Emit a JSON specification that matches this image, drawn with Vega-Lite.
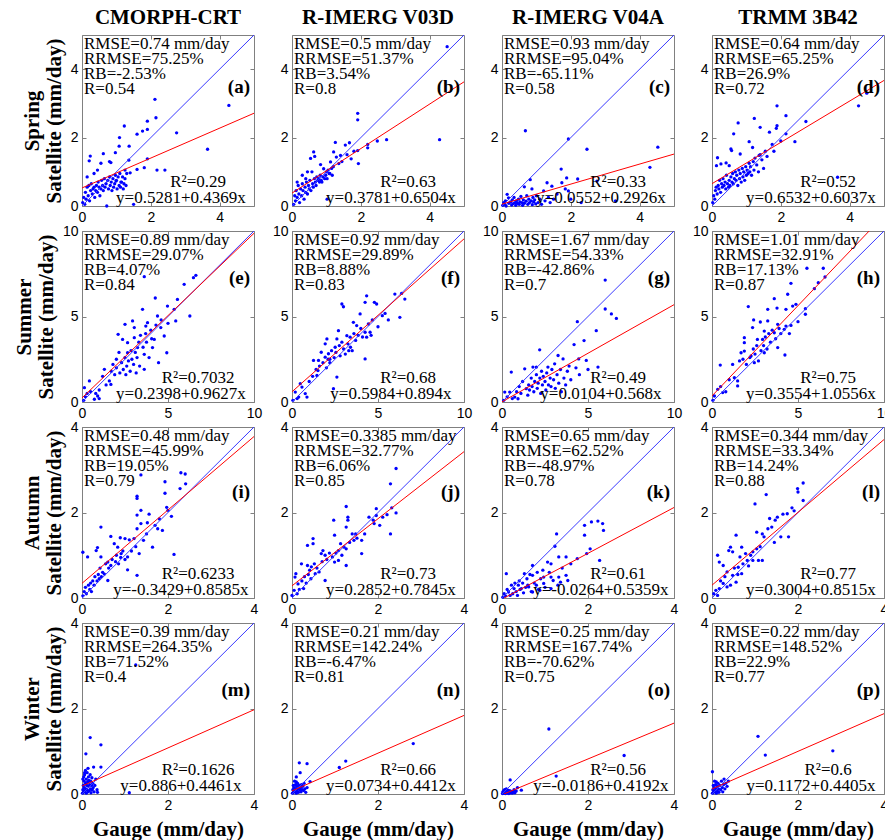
{
"$schema":"https://vega.github.io/schema/vega-lite/v6.json",
"padding":{"left":12,"top":6,"right":0,"bottom":0},
"background":"white",
"datasets":{
"pts":[
{"p":"a","x":0.02,"y":0.1},{"p":"a","x":0.05,"y":0.25},{"p":"a","x":0.08,"y":0.05},{"p":"a","x":0.1,"y":0.4},{"p":"a","x":0.12,"y":0.2},{"p":"a","x":0.15,"y":0.55},{"p":"a","x":0.18,"y":0.3},{"p":"a","x":0.2,"y":0.6},{"p":"a","x":0.22,"y":0.15},{"p":"a","x":0.25,"y":0.45},{"p":"a","x":0.27,"y":0.65},{"p":"a","x":0.3,"y":0.35},{"p":"a","x":0.32,"y":0.5},{"p":"a","x":0.35,"y":0.55},{"p":"a","x":0.37,"y":0.25},{"p":"a","x":0.4,"y":0.45},{"p":"a","x":0.42,"y":0.6},{"p":"a","x":0.45,"y":0.4},{"p":"a","x":0.47,"y":0.7},{"p":"a","x":0.5,"y":0.55},{"p":"a","x":0.52,"y":0.3},{"p":"a","x":0.55,"y":0.5},{"p":"a","x":0.57,"y":0.75},{"p":"a","x":0.6,"y":0.6},{"p":"a","x":0.62,"y":0.45},{"p":"a","x":0.65,"y":0.8},{"p":"a","x":0.67,"y":0.55},{"p":"a","x":0.7,"y":0.65},{"p":"a","x":0.72,"y":0.0},{"p":"a","x":0.75,"y":0.75},{"p":"a","x":0.77,"y":0.5},{"p":"a","x":0.8,"y":0.85},{"p":"a","x":0.82,"y":0.6},{"p":"a","x":0.85,"y":0.7},{"p":"a","x":0.87,"y":0.45},{"p":"a","x":0.9,"y":0.8},{"p":"a","x":0.92,"y":0.55},{"p":"a","x":0.95,"y":0.65},{"p":"a","x":0.97,"y":0.9},{"p":"a","x":1.0,"y":0.75},{"p":"a","x":1.02,"y":0.5},{"p":"a","x":1.05,"y":0.85},{"p":"a","x":1.08,"y":0.6},{"p":"a","x":1.1,"y":0.95},{"p":"a","x":1.12,"y":0.55},{"p":"a","x":1.15,"y":0.7},{"p":"a","x":1.18,"y":0.85},{"p":"a","x":1.2,"y":0.5},{"p":"a","x":1.22,"y":0.65},{"p":"a","x":1.25,"y":0.8},{"p":"a","x":1.28,"y":0.6},{"p":"a","x":1.3,"y":0.95},{"p":"a","x":0.21,"y":1.32},{"p":"a","x":0.24,"y":1.46},{"p":"a","x":0.55,"y":1.25},{"p":"a","x":0.62,"y":1.53},{"p":"a","x":0.8,"y":1.3},{"p":"a","x":0.84,"y":1.27},{"p":"a","x":0.97,"y":1.56},{"p":"a","x":1.08,"y":1.75},{"p":"a","x":1.09,"y":2.0},{"p":"a","x":1.23,"y":2.34},{"p":"a","x":1.37,"y":1.75},{"p":"a","x":1.36,"y":1.34},{"p":"a","x":1.6,"y":2.1},{"p":"a","x":1.76,"y":2.19},{"p":"a","x":1.9,"y":2.24},{"p":"a","x":1.9,"y":2.48},{"p":"a","x":2.15,"y":2.58},{"p":"a","x":2.12,"y":3.12},{"p":"a","x":2.75,"y":2.14},{"p":"a","x":3.65,"y":1.66},{"p":"a","x":4.27,"y":2.94},{"p":"a","x":2.18,"y":1.05},{"p":"a","x":2.41,"y":1.05},{"p":"a","x":1.9,"y":1.38},{"p":"a","x":1.81,"y":1.12},{"p":"a","x":1.6,"y":1.07},{"p":"a","x":1.4,"y":0.97},{"p":"a","x":1.25,"y":1.05},{"p":"a","x":1.13,"y":0.7},{"p":"a","x":0.99,"y":0.73},{"p":"a","x":0.35,"y":0.95},{"p":"a","x":0.45,"y":1.05},{"p":"a","x":0.15,"y":0.85},{"p":"a","x":1.5,"y":0.05},
{"p":"b","x":0.05,"y":0.05},{"p":"b","x":0.08,"y":0.3},{"p":"b","x":0.1,"y":0.15},{"p":"b","x":0.12,"y":0.45},{"p":"b","x":0.15,"y":0.25},{"p":"b","x":0.18,"y":0.6},{"p":"b","x":0.2,"y":0.35},{"p":"b","x":0.22,"y":0.1},{"p":"b","x":0.25,"y":0.5},{"p":"b","x":0.28,"y":0.3},{"p":"b","x":0.3,"y":0.65},{"p":"b","x":0.32,"y":0.45},{"p":"b","x":0.35,"y":0.2},{"p":"b","x":0.38,"y":0.55},{"p":"b","x":0.4,"y":0.4},{"p":"b","x":0.42,"y":0.7},{"p":"b","x":0.45,"y":0.35},{"p":"b","x":0.48,"y":0.6},{"p":"b","x":0.5,"y":0.5},{"p":"b","x":0.52,"y":0.75},{"p":"b","x":0.55,"y":0.45},{"p":"b","x":0.58,"y":1.0},{"p":"b","x":0.6,"y":0.65},{"p":"b","x":0.62,"y":0.55},{"p":"b","x":0.65,"y":0.8},{"p":"b","x":0.68,"y":0.7},{"p":"b","x":0.7,"y":0.6},{"p":"b","x":0.72,"y":0.85},{"p":"b","x":0.75,"y":0.75},{"p":"b","x":0.78,"y":0.8},{"p":"b","x":0.8,"y":0.7},{"p":"b","x":0.82,"y":0.9},{"p":"b","x":0.85,"y":0.75},{"p":"b","x":0.87,"y":0.7},{"p":"b","x":0.9,"y":0.85},{"p":"b","x":0.92,"y":1.09},{"p":"b","x":0.95,"y":0.8},{"p":"b","x":0.98,"y":0.9},{"p":"b","x":1.0,"y":1.0},{"p":"b","x":1.02,"y":0.8},{"p":"b","x":1.02,"y":0.2},{"p":"b","x":1.05,"y":1.05},{"p":"b","x":1.08,"y":0.95},{"p":"b","x":1.1,"y":0.95},{"p":"b","x":1.12,"y":1.29},{"p":"b","x":1.15,"y":1.1},{"p":"b","x":1.17,"y":0.9},{"p":"b","x":1.2,"y":1.15},{"p":"b","x":1.21,"y":1.58},{"p":"b","x":1.26,"y":1.86},{"p":"b","x":1.29,"y":1.43},{"p":"b","x":1.36,"y":1.24},{"p":"b","x":1.41,"y":1.48},{"p":"b","x":1.45,"y":1.3},{"p":"b","x":1.55,"y":1.78},{"p":"b","x":1.6,"y":1.5},{"p":"b","x":1.67,"y":1.85},{"p":"b","x":1.72,"y":1.38},{"p":"b","x":1.8,"y":1.6},{"p":"b","x":1.91,"y":2.71},{"p":"b","x":1.91,"y":2.52},{"p":"b","x":1.91,"y":1.62},{"p":"b","x":1.93,"y":1.24},{"p":"b","x":2.2,"y":1.8},{"p":"b","x":2.2,"y":1.7},{"p":"b","x":2.48,"y":1.9},{"p":"b","x":2.75,"y":1.94},{"p":"b","x":4.29,"y":1.94},{"p":"b","x":4.51,"y":4.66},{"p":"b","x":0.63,"y":1.58},{"p":"b","x":0.66,"y":1.45},{"p":"b","x":0.54,"y":1.39},{"p":"b","x":0.83,"y":1.21},{"p":"b","x":0.4,"y":0.8},{"p":"b","x":0.3,"y":0.9},{"p":"b","x":0.15,"y":0.7},{"p":"b","x":0.45,"y":1.0},
{"p":"c","x":0.02,"y":0.02},{"p":"c","x":0.05,"y":0.1},{"p":"c","x":0.08,"y":0.05},{"p":"c","x":0.1,"y":0.15},{"p":"c","x":0.12,"y":0.0},{"p":"c","x":0.15,"y":0.34},{"p":"c","x":0.19,"y":0.24},{"p":"c","x":0.2,"y":0.08},{"p":"c","x":0.25,"y":0.12},{"p":"c","x":0.28,"y":0.03},{"p":"c","x":0.3,"y":0.18},{"p":"c","x":0.33,"y":0.07},{"p":"c","x":0.35,"y":0.25},{"p":"c","x":0.38,"y":0.1},{"p":"c","x":0.4,"y":0.02},{"p":"c","x":0.42,"y":0.15},{"p":"c","x":0.45,"y":0.08},{"p":"c","x":0.48,"y":0.2},{"p":"c","x":0.5,"y":0.05},{"p":"c","x":0.52,"y":0.12},{"p":"c","x":0.55,"y":0.28},{"p":"c","x":0.58,"y":0.1},{"p":"c","x":0.6,"y":0.02},{"p":"c","x":0.62,"y":0.18},{"p":"c","x":0.65,"y":0.56},{"p":"c","x":0.65,"y":0.08},{"p":"c","x":0.68,"y":2.2},{"p":"c","x":0.7,"y":0.14},{"p":"c","x":0.72,"y":0.3},{"p":"c","x":0.75,"y":0.05},{"p":"c","x":0.78,"y":0.2},{"p":"c","x":0.8,"y":0.1},{"p":"c","x":0.82,"y":0.77},{"p":"c","x":0.85,"y":0.15},{"p":"c","x":0.87,"y":0.5},{"p":"c","x":0.88,"y":0.04},{"p":"c","x":0.9,"y":0.25},{"p":"c","x":0.92,"y":0.12},{"p":"c","x":0.95,"y":0.18},{"p":"c","x":0.98,"y":0.06},{"p":"c","x":1.0,"y":0.3},{"p":"c","x":1.05,"y":0.1},{"p":"c","x":1.1,"y":0.2},{"p":"c","x":1.15,"y":0.05},{"p":"c","x":1.21,"y":0.44},{"p":"c","x":1.25,"y":0.15},{"p":"c","x":1.31,"y":0.68},{"p":"c","x":1.35,"y":0.25},{"p":"c","x":1.4,"y":0.1},{"p":"c","x":1.45,"y":0.58},{"p":"c","x":1.5,"y":0.2},{"p":"c","x":1.6,"y":0.35},{"p":"c","x":1.72,"y":1.08},{"p":"c","x":1.74,"y":0.68},{"p":"c","x":1.84,"y":0.5},{"p":"c","x":1.88,"y":0.82},{"p":"c","x":1.93,"y":0.44},{"p":"c","x":1.93,"y":1.96},{"p":"c","x":2.0,"y":0.2},{"p":"c","x":2.2,"y":0.79},{"p":"c","x":2.3,"y":0.1},{"p":"c","x":2.47,"y":1.66},{"p":"c","x":2.76,"y":0.73},{"p":"c","x":3.3,"y":0.15},{"p":"c","x":4.3,"y":1.13},{"p":"c","x":4.53,"y":1.72},
{"p":"d","x":0.02,"y":0.1},{"p":"d","x":0.05,"y":0.3},{"p":"d","x":0.08,"y":0.2},{"p":"d","x":0.1,"y":0.45},{"p":"d","x":0.12,"y":0.55},{"p":"d","x":0.15,"y":0.35},{"p":"d","x":0.18,"y":0.6},{"p":"d","x":0.2,"y":0.5},{"p":"d","x":0.22,"y":0.75},{"p":"d","x":0.25,"y":0.4},{"p":"d","x":0.28,"y":0.65},{"p":"d","x":0.3,"y":0.55},{"p":"d","x":0.32,"y":0.8},{"p":"d","x":0.35,"y":0.6},{"p":"d","x":0.38,"y":0.7},{"p":"d","x":0.4,"y":0.5},{"p":"d","x":0.42,"y":0.9},{"p":"d","x":0.45,"y":0.65},{"p":"d","x":0.48,"y":0.55},{"p":"d","x":0.5,"y":0.75},{"p":"d","x":0.52,"y":0.6},{"p":"d","x":0.55,"y":0.85},{"p":"d","x":0.58,"y":0.7},{"p":"d","x":0.6,"y":0.95},{"p":"d","x":0.62,"y":0.65},{"p":"d","x":0.65,"y":0.8},{"p":"d","x":0.68,"y":1.0},{"p":"d","x":0.7,"y":0.75},{"p":"d","x":0.72,"y":0.9},{"p":"d","x":0.75,"y":0.6},{"p":"d","x":0.78,"y":1.05},{"p":"d","x":0.8,"y":0.8},{"p":"d","x":0.82,"y":0.95},{"p":"d","x":0.85,"y":0.7},{"p":"d","x":0.88,"y":1.1},{"p":"d","x":0.9,"y":0.85},{"p":"d","x":0.92,"y":1.0},{"p":"d","x":0.95,"y":0.75},{"p":"d","x":0.98,"y":1.15},{"p":"d","x":1.0,"y":0.9},{"p":"d","x":1.02,"y":1.05},{"p":"d","x":1.05,"y":0.95},{"p":"d","x":1.08,"y":1.25},{"p":"d","x":1.1,"y":1.0},{"p":"d","x":1.12,"y":1.15},{"p":"d","x":1.15,"y":0.9},{"p":"d","x":1.2,"y":1.3},{"p":"d","x":1.22,"y":1.05},{"p":"d","x":1.25,"y":1.4},{"p":"d","x":1.3,"y":1.2},{"p":"d","x":1.35,"y":1.0},{"p":"d","x":1.4,"y":1.5},{"p":"d","x":1.45,"y":1.35},{"p":"d","x":1.5,"y":1.1},{"p":"d","x":1.55,"y":1.6},{"p":"d","x":1.6,"y":1.45},{"p":"d","x":0.16,"y":1.41},{"p":"d","x":0.13,"y":1.18},{"p":"d","x":0.26,"y":1.23},{"p":"d","x":0.41,"y":1.26},{"p":"d","x":0.5,"y":1.18},{"p":"d","x":0.55,"y":1.67},{"p":"d","x":0.57,"y":1.62},{"p":"d","x":0.63,"y":2.11},{"p":"d","x":0.76,"y":2.43},{"p":"d","x":0.82,"y":1.52},{"p":"d","x":1.08,"y":1.88},{"p":"d","x":1.18,"y":1.71},{"p":"d","x":1.23,"y":2.56},{"p":"d","x":1.37,"y":1.48},{"p":"d","x":1.4,"y":2.3},{"p":"d","x":1.67,"y":2.16},{"p":"d","x":1.87,"y":2.27},{"p":"d","x":1.89,"y":2.35},{"p":"d","x":1.89,"y":2.93},{"p":"d","x":2.15,"y":2.64},{"p":"d","x":2.15,"y":2.11},{"p":"d","x":2.41,"y":1.88},{"p":"d","x":2.73,"y":2.47},{"p":"d","x":3.65,"y":0.84},{"p":"d","x":4.26,"y":2.93},{"p":"d","x":4.5,"y":3.3},{"p":"d","x":1.75,"y":1.8},{"p":"d","x":2.0,"y":1.9},{"p":"d","x":1.8,"y":1.6},
{"p":"e","x":0.1,"y":0.1},{"p":"e","x":0.14,"y":0.84},{"p":"e","x":0.2,"y":0.3},{"p":"e","x":0.43,"y":1.23},{"p":"e","x":0.5,"y":0.6},{"p":"e","x":0.72,"y":0.16},{"p":"e","x":0.8,"y":0.5},{"p":"e","x":0.91,"y":0.35},{"p":"e","x":1.0,"y":0.7},{"p":"e","x":1.2,"y":1.5},{"p":"e","x":1.3,"y":1.91},{"p":"e","x":1.4,"y":1.0},{"p":"e","x":1.59,"y":1.23},{"p":"e","x":1.68,"y":1.03},{"p":"e","x":1.7,"y":1.8},{"p":"e","x":1.8,"y":2.2},{"p":"e","x":1.9,"y":1.6},{"p":"e","x":2.0,"y":2.5},{"p":"e","x":2.0,"y":2.0},{"p":"e","x":2.1,"y":3.96},{"p":"e","x":2.15,"y":2.9},{"p":"e","x":2.2,"y":1.7},{"p":"e","x":2.3,"y":2.3},{"p":"e","x":2.36,"y":3.66},{"p":"e","x":2.4,"y":1.9},{"p":"e","x":2.5,"y":4.54},{"p":"e","x":2.5,"y":2.6},{"p":"e","x":2.55,"y":1.6},{"p":"e","x":2.6,"y":2.1},{"p":"e","x":2.65,"y":3.47},{"p":"e","x":2.65,"y":2.88},{"p":"e","x":2.7,"y":2.4},{"p":"e","x":2.8,"y":1.8},{"p":"e","x":2.85,"y":3.0},{"p":"e","x":2.9,"y":2.5},{"p":"e","x":2.94,"y":4.74},{"p":"e","x":3.0,"y":2.2},{"p":"e","x":3.04,"y":4.35},{"p":"e","x":3.04,"y":3.76},{"p":"e","x":3.1,"y":2.9},{"p":"e","x":3.15,"y":1.7},{"p":"e","x":3.2,"y":2.6},{"p":"e","x":3.23,"y":3.18},{"p":"e","x":3.3,"y":3.5},{"p":"e","x":3.35,"y":2.1},{"p":"e","x":3.4,"y":3.9},{"p":"e","x":3.52,"y":5.42},{"p":"e","x":3.55,"y":3.2},{"p":"e","x":3.62,"y":2.79},{"p":"e","x":3.62,"y":1.91},{"p":"e","x":3.62,"y":7.33},{"p":"e","x":3.7,"y":4.0},{"p":"e","x":3.71,"y":4.44},{"p":"e","x":3.75,"y":3.5},{"p":"e","x":3.81,"y":4.64},{"p":"e","x":3.9,"y":2.6},{"p":"e","x":4.0,"y":4.2},{"p":"e","x":4.05,"y":3.7},{"p":"e","x":4.1,"y":3.18},{"p":"e","x":4.2,"y":3.66},{"p":"e","x":4.26,"y":6.08},{"p":"e","x":4.3,"y":4.5},{"p":"e","x":4.39,"y":5.03},{"p":"e","x":4.45,"y":2.3},{"p":"e","x":4.58,"y":4.35},{"p":"e","x":4.6,"y":4.8},{"p":"e","x":4.78,"y":3.86},{"p":"e","x":4.93,"y":2.88},{"p":"e","x":4.97,"y":5.61},{"p":"e","x":5.0,"y":4.6},{"p":"e","x":5.36,"y":5.42},{"p":"e","x":5.45,"y":4.74},{"p":"e","x":5.55,"y":6.0},{"p":"e","x":5.94,"y":6.88},{"p":"e","x":6.27,"y":5.03},{"p":"e","x":6.48,"y":7.27},{"p":"e","x":6.62,"y":7.41},{"p":"e","x":1.0,"y":0.2},{"p":"e","x":0.3,"y":0.5},
{"p":"f","x":0.05,"y":0.1},{"p":"f","x":0.19,"y":0.58},{"p":"f","x":0.3,"y":0.2},{"p":"f","x":0.39,"y":0.29},{"p":"f","x":0.48,"y":1.07},{"p":"f","x":0.58,"y":0.87},{"p":"f","x":0.77,"y":0.49},{"p":"f","x":0.87,"y":0.29},{"p":"f","x":1.0,"y":1.2},{"p":"f","x":1.2,"y":1.5},{"p":"f","x":1.25,"y":2.43},{"p":"f","x":1.4,"y":1.9},{"p":"f","x":1.45,"y":1.55},{"p":"f","x":1.51,"y":1.84},{"p":"f","x":1.54,"y":2.43},{"p":"f","x":1.6,"y":2.1},{"p":"f","x":1.7,"y":2.91},{"p":"f","x":1.8,"y":2.3},{"p":"f","x":1.93,"y":3.4},{"p":"f","x":1.93,"y":2.62},{"p":"f","x":2.0,"y":2.0},{"p":"f","x":2.03,"y":3.69},{"p":"f","x":2.1,"y":2.5},{"p":"f","x":2.12,"y":2.82},{"p":"f","x":2.2,"y":2.3},{"p":"f","x":2.3,"y":3.0},{"p":"f","x":2.41,"y":0.78},{"p":"f","x":2.45,"y":2.6},{"p":"f","x":2.51,"y":3.2},{"p":"f","x":2.55,"y":2.9},{"p":"f","x":2.61,"y":3.69},{"p":"f","x":2.61,"y":1.46},{"p":"f","x":2.7,"y":4.17},{"p":"f","x":2.75,"y":3.3},{"p":"f","x":2.8,"y":2.7},{"p":"f","x":2.9,"y":5.73},{"p":"f","x":2.9,"y":3.5},{"p":"f","x":2.99,"y":5.57},{"p":"f","x":3.0,"y":3.1},{"p":"f","x":3.1,"y":2.8},{"p":"f","x":3.19,"y":3.88},{"p":"f","x":3.25,"y":3.4},{"p":"f","x":3.38,"y":3.79},{"p":"f","x":3.4,"y":3.2},{"p":"f","x":3.5,"y":3.0},{"p":"f","x":3.57,"y":4.66},{"p":"f","x":3.6,"y":4.0},{"p":"f","x":3.7,"y":3.6},{"p":"f","x":3.76,"y":4.47},{"p":"f","x":3.85,"y":3.9},{"p":"f","x":3.96,"y":5.15},{"p":"f","x":4.0,"y":4.3},{"p":"f","x":4.1,"y":3.8},{"p":"f","x":4.25,"y":5.83},{"p":"f","x":4.25,"y":4.08},{"p":"f","x":4.25,"y":2.52},{"p":"f","x":4.34,"y":6.21},{"p":"f","x":4.34,"y":3.79},{"p":"f","x":4.44,"y":4.56},{"p":"f","x":4.54,"y":4.08},{"p":"f","x":4.6,"y":3.9},{"p":"f","x":4.67,"y":4.8},{"p":"f","x":4.79,"y":5.83},{"p":"f","x":4.92,"y":5.73},{"p":"f","x":5.0,"y":4.4},{"p":"f","x":5.25,"y":5.05},{"p":"f","x":5.41,"y":5.18},{"p":"f","x":5.6,"y":4.8},{"p":"f","x":5.98,"y":6.31},{"p":"f","x":6.27,"y":4.95},{"p":"f","x":6.37,"y":6.35},{"p":"f","x":6.56,"y":6.02},{"p":"f","x":3.3,"y":3.0},{"p":"f","x":2.2,"y":2.5},
{"p":"g","x":0.1,"y":0.1},{"p":"g","x":0.16,"y":0.58},{"p":"g","x":0.3,"y":0.3},{"p":"g","x":0.45,"y":0.58},{"p":"g","x":0.54,"y":1.75},{"p":"g","x":0.6,"y":0.2},{"p":"g","x":0.74,"y":0.29},{"p":"g","x":0.85,"y":0.6},{"p":"g","x":0.93,"y":0.19},{"p":"g","x":1.0,"y":0.9},{"p":"g","x":1.1,"y":0.5},{"p":"g","x":1.2,"y":1.2},{"p":"g","x":1.32,"y":1.94},{"p":"g","x":1.41,"y":0.78},{"p":"g","x":1.5,"y":0.4},{"p":"g","x":1.55,"y":1.0},{"p":"g","x":1.6,"y":0.7},{"p":"g","x":1.7,"y":1.4},{"p":"g","x":1.75,"y":0.9},{"p":"g","x":1.8,"y":2.04},{"p":"g","x":1.85,"y":0.6},{"p":"g","x":1.9,"y":1.2},{"p":"g","x":2.0,"y":2.04},{"p":"g","x":2.0,"y":1.6},{"p":"g","x":2.05,"y":0.8},{"p":"g","x":2.1,"y":1.1},{"p":"g","x":2.19,"y":3.05},{"p":"g","x":2.2,"y":1.4},{"p":"g","x":2.25,"y":0.5},{"p":"g","x":2.3,"y":1.8},{"p":"g","x":2.35,"y":1.0},{"p":"g","x":2.4,"y":1.5},{"p":"g","x":2.5,"y":1.2},{"p":"g","x":2.55,"y":0.7},{"p":"g","x":2.6,"y":1.7},{"p":"g","x":2.67,"y":2.04},{"p":"g","x":2.7,"y":1.0},{"p":"g","x":2.8,"y":1.4},{"p":"g","x":2.85,"y":0.9},{"p":"g","x":2.9,"y":1.9},{"p":"g","x":3.0,"y":1.3},{"p":"g","x":3.06,"y":2.23},{"p":"g","x":3.1,"y":0.8},{"p":"g","x":3.2,"y":1.6},{"p":"g","x":3.26,"y":2.72},{"p":"g","x":3.3,"y":1.1},{"p":"g","x":3.4,"y":1.9},{"p":"g","x":3.45,"y":0.6},{"p":"g","x":3.55,"y":2.52},{"p":"g","x":3.6,"y":1.4},{"p":"g","x":3.7,"y":1.0},{"p":"g","x":3.8,"y":1.8},{"p":"g","x":3.9,"y":2.1},{"p":"g","x":4.0,"y":1.3},{"p":"g","x":4.19,"y":3.36},{"p":"g","x":4.3,"y":2.0},{"p":"g","x":4.38,"y":4.7},{"p":"g","x":4.46,"y":2.52},{"p":"g","x":4.5,"y":1.6},{"p":"g","x":4.77,"y":3.59},{"p":"g","x":4.9,"y":2.43},{"p":"g","x":5.0,"y":1.9},{"p":"g","x":5.48,"y":4.17},{"p":"g","x":5.58,"y":2.04},{"p":"g","x":6.0,"y":7.13},{"p":"g","x":6.0,"y":5.44},{"p":"g","x":6.36,"y":5.15},{"p":"g","x":6.65,"y":4.89},
{"p":"h","x":0.05,"y":0.1},{"p":"h","x":0.14,"y":0.35},{"p":"h","x":0.33,"y":0.74},{"p":"h","x":0.5,"y":0.9},{"p":"h","x":0.62,"y":0.55},{"p":"h","x":0.48,"y":2.16},{"p":"h","x":0.8,"y":0.6},{"p":"h","x":1.0,"y":1.3},{"p":"h","x":1.2,"y":2.2},{"p":"h","x":1.3,"y":1.42},{"p":"h","x":1.49,"y":1.23},{"p":"h","x":1.49,"y":0.94},{"p":"h","x":1.6,"y":2.4},{"p":"h","x":1.69,"y":2.88},{"p":"h","x":1.8,"y":2.5},{"p":"h","x":1.88,"y":3.76},{"p":"h","x":1.88,"y":3.47},{"p":"h","x":1.88,"y":2.98},{"p":"h","x":2.0,"y":2.2},{"p":"h","x":2.11,"y":5.58},{"p":"h","x":2.2,"y":2.6},{"p":"h","x":2.27,"y":2.69},{"p":"h","x":2.36,"y":4.35},{"p":"h","x":2.4,"y":3.1},{"p":"h","x":2.42,"y":4.8},{"p":"h","x":2.46,"y":2.3},{"p":"h","x":2.5,"y":2.8},{"p":"h","x":2.6,"y":3.3},{"p":"h","x":2.64,"y":3.66},{"p":"h","x":2.7,"y":2.4},{"p":"h","x":2.81,"y":4.68},{"p":"h","x":2.85,"y":3.0},{"p":"h","x":2.94,"y":3.66},{"p":"h","x":3.0,"y":3.3},{"p":"h","x":3.04,"y":4.15},{"p":"h","x":3.04,"y":2.88},{"p":"h","x":3.1,"y":3.8},{"p":"h","x":3.2,"y":3.1},{"p":"h","x":3.24,"y":5.42},{"p":"h","x":3.24,"y":4.74},{"p":"h","x":3.3,"y":4.0},{"p":"h","x":3.4,"y":3.5},{"p":"h","x":3.5,"y":4.2},{"p":"h","x":3.62,"y":6.04},{"p":"h","x":3.62,"y":4.05},{"p":"h","x":3.7,"y":3.7},{"p":"h","x":3.78,"y":5.49},{"p":"h","x":3.82,"y":4.54},{"p":"h","x":3.82,"y":3.18},{"p":"h","x":3.9,"y":4.3},{"p":"h","x":4.0,"y":4.0},{"p":"h","x":4.2,"y":4.25},{"p":"h","x":4.24,"y":2.75},{"p":"h","x":4.3,"y":5.42},{"p":"h","x":4.3,"y":4.44},{"p":"h","x":4.4,"y":6.3},{"p":"h","x":4.5,"y":4.0},{"p":"h","x":4.59,"y":6.94},{"p":"h","x":4.59,"y":4.48},{"p":"h","x":4.69,"y":5.61},{"p":"h","x":4.88,"y":5.71},{"p":"h","x":5.0,"y":4.7},{"p":"h","x":5.43,"y":5.13},{"p":"h","x":5.43,"y":5.46},{"p":"h","x":5.52,"y":7.82},{"p":"h","x":5.95,"y":6.63},{"p":"h","x":6.18,"y":6.98},{"p":"h","x":6.47,"y":7.82},{"p":"h","x":6.57,"y":7.31},
{"p":"i","x":0.02,"y":0.05},{"p":"i","x":0.05,"y":0.15},{"p":"i","x":0.02,"y":1.07},{"p":"i","x":0.08,"y":0.25},{"p":"i","x":0.1,"y":0.1},{"p":"i","x":0.13,"y":0.96},{"p":"i","x":0.15,"y":0.3},{"p":"i","x":0.18,"y":0.2},{"p":"i","x":0.2,"y":0.35},{"p":"i","x":0.22,"y":0.15},{"p":"i","x":0.25,"y":0.4},{"p":"i","x":0.28,"y":0.3},{"p":"i","x":0.3,"y":0.5},{"p":"i","x":0.33,"y":1.11},{"p":"i","x":0.35,"y":0.4},{"p":"i","x":0.36,"y":1.18},{"p":"i","x":0.38,"y":0.55},{"p":"i","x":0.4,"y":0.45},{"p":"i","x":0.42,"y":0.7},{"p":"i","x":0.44,"y":1.66},{"p":"i","x":0.44,"y":0.96},{"p":"i","x":0.45,"y":0.5},{"p":"i","x":0.48,"y":0.6},{"p":"i","x":0.52,"y":0.56},{"p":"i","x":0.55,"y":0.8},{"p":"i","x":0.6,"y":0.84},{"p":"i","x":0.6,"y":0.41},{"p":"i","x":0.62,"y":0.7},{"p":"i","x":0.67,"y":1.44},{"p":"i","x":0.67,"y":0.76},{"p":"i","x":0.7,"y":0.9},{"p":"i","x":0.75,"y":1.27},{"p":"i","x":0.78,"y":0.85},{"p":"i","x":0.8,"y":1.0},{"p":"i","x":0.83,"y":1.19},{"p":"i","x":0.85,"y":0.8},{"p":"i","x":0.89,"y":1.41},{"p":"i","x":0.9,"y":0.95},{"p":"i","x":0.91,"y":1.04},{"p":"i","x":0.95,"y":1.1},{"p":"i","x":1.0,"y":1.39},{"p":"i","x":1.0,"y":0.9},{"p":"i","x":1.06,"y":0.96},{"p":"i","x":1.06,"y":0.66},{"p":"i","x":1.1,"y":1.36},{"p":"i","x":1.15,"y":1.1},{"p":"i","x":1.21,"y":1.39},{"p":"i","x":1.25,"y":1.2},{"p":"i","x":1.28,"y":2.38},{"p":"i","x":1.28,"y":2.33},{"p":"i","x":1.28,"y":1.94},{"p":"i","x":1.28,"y":1.62},{"p":"i","x":1.28,"y":0.53},{"p":"i","x":1.33,"y":1.04},{"p":"i","x":1.37,"y":2.88},{"p":"i","x":1.37,"y":2.05},{"p":"i","x":1.37,"y":1.74},{"p":"i","x":1.43,"y":1.35},{"p":"i","x":1.5,"y":1.5},{"p":"i","x":1.52,"y":1.76},{"p":"i","x":1.56,"y":1.96},{"p":"i","x":1.64,"y":1.19},{"p":"i","x":1.7,"y":1.7},{"p":"i","x":1.76,"y":1.62},{"p":"i","x":1.8,"y":1.85},{"p":"i","x":1.87,"y":1.58},{"p":"i","x":1.93,"y":2.72},{"p":"i","x":1.93,"y":2.45},{"p":"i","x":1.97,"y":2.12},{"p":"i","x":2.0,"y":2.05},{"p":"i","x":2.08,"y":1.91},{"p":"i","x":2.14,"y":1.02},{"p":"i","x":2.28,"y":2.56},{"p":"i","x":2.3,"y":2.93},{"p":"i","x":2.4,"y":2.9},{"p":"i","x":2.41,"y":2.67},
{"p":"j","x":0.0,"y":0.06},{"p":"j","x":0.05,"y":0.18},{"p":"j","x":0.07,"y":0.49},{"p":"j","x":0.09,"y":0.57},{"p":"j","x":0.12,"y":0.1},{"p":"j","x":0.14,"y":0.33},{"p":"j","x":0.17,"y":0.2},{"p":"j","x":0.22,"y":0.8},{"p":"j","x":0.23,"y":0.4},{"p":"j","x":0.27,"y":0.22},{"p":"j","x":0.29,"y":0.5},{"p":"j","x":0.33,"y":0.35},{"p":"j","x":0.36,"y":1.23},{"p":"j","x":0.36,"y":0.76},{"p":"j","x":0.38,"y":0.55},{"p":"j","x":0.41,"y":0.65},{"p":"j","x":0.44,"y":0.45},{"p":"j","x":0.45,"y":0.73},{"p":"j","x":0.49,"y":1.39},{"p":"j","x":0.49,"y":1.27},{"p":"j","x":0.52,"y":0.8},{"p":"j","x":0.54,"y":0.57},{"p":"j","x":0.58,"y":0.7},{"p":"j","x":0.63,"y":0.61},{"p":"j","x":0.68,"y":1.04},{"p":"j","x":0.7,"y":0.85},{"p":"j","x":0.72,"y":1.11},{"p":"j","x":0.77,"y":1.0},{"p":"j","x":0.77,"y":0.41},{"p":"j","x":0.81,"y":0.9},{"p":"j","x":0.87,"y":1.05},{"p":"j","x":0.94,"y":0.96},{"p":"j","x":0.97,"y":1.82},{"p":"j","x":0.99,"y":1.47},{"p":"j","x":0.99,"y":0.84},{"p":"j","x":1.02,"y":1.05},{"p":"j","x":1.08,"y":1.11},{"p":"j","x":1.08,"y":0.88},{"p":"j","x":1.13,"y":1.27},{"p":"j","x":1.16,"y":1.0},{"p":"j","x":1.21,"y":1.19},{"p":"j","x":1.26,"y":2.14},{"p":"j","x":1.26,"y":1.66},{"p":"j","x":1.26,"y":1.15},{"p":"j","x":1.26,"y":0.76},{"p":"j","x":1.3,"y":1.89},{"p":"j","x":1.3,"y":1.82},{"p":"j","x":1.34,"y":1.3},{"p":"j","x":1.4,"y":1.5},{"p":"j","x":1.44,"y":1.35},{"p":"j","x":1.48,"y":1.5},{"p":"j","x":1.51,"y":1.4},{"p":"j","x":1.62,"y":1.35},{"p":"j","x":1.62,"y":1.04},{"p":"j","x":1.69,"y":1.5},{"p":"j","x":1.79,"y":1.89},{"p":"j","x":1.89,"y":1.82},{"p":"j","x":1.91,"y":1.74},{"p":"j","x":1.96,"y":2.09},{"p":"j","x":1.96,"y":1.93},{"p":"j","x":2.04,"y":1.7},{"p":"j","x":2.11,"y":1.89},{"p":"j","x":2.29,"y":2.67},{"p":"j","x":2.29,"y":1.5},{"p":"j","x":2.32,"y":2.11},{"p":"j","x":2.42,"y":3.03},{"p":"j","x":2.42,"y":1.99},{"p":"j","x":2.21,"y":1.95},
{"p":"k","x":0.02,"y":0.02},{"p":"k","x":0.05,"y":0.1},{"p":"k","x":0.08,"y":0.05},{"p":"k","x":0.1,"y":0.57},{"p":"k","x":0.12,"y":0.2},{"p":"k","x":0.15,"y":0.14},{"p":"k","x":0.19,"y":0.06},{"p":"k","x":0.22,"y":0.3},{"p":"k","x":0.25,"y":0.1},{"p":"k","x":0.28,"y":0.22},{"p":"k","x":0.3,"y":0.35},{"p":"k","x":0.33,"y":0.15},{"p":"k","x":0.36,"y":0.06},{"p":"k","x":0.38,"y":0.3},{"p":"k","x":0.4,"y":0.4},{"p":"k","x":0.42,"y":0.2},{"p":"k","x":0.45,"y":0.22},{"p":"k","x":0.48,"y":0.35},{"p":"k","x":0.5,"y":0.12},{"p":"k","x":0.52,"y":0.57},{"p":"k","x":0.55,"y":0.25},{"p":"k","x":0.58,"y":0.45},{"p":"k","x":0.6,"y":0.3},{"p":"k","x":0.62,"y":0.26},{"p":"k","x":0.65,"y":0.55},{"p":"k","x":0.68,"y":0.15},{"p":"k","x":0.71,"y":0.76},{"p":"k","x":0.71,"y":0.53},{"p":"k","x":0.71,"y":0.14},{"p":"k","x":0.75,"y":0.35},{"p":"k","x":0.8,"y":0.3},{"p":"k","x":0.82,"y":0.6},{"p":"k","x":0.85,"y":0.2},{"p":"k","x":0.88,"y":0.18},{"p":"k","x":0.9,"y":0.45},{"p":"k","x":0.95,"y":0.65},{"p":"k","x":0.97,"y":0.49},{"p":"k","x":0.97,"y":0.34},{"p":"k","x":1.0,"y":0.25},{"p":"k","x":1.06,"y":0.84},{"p":"k","x":1.1,"y":0.6},{"p":"k","x":1.14,"y":0.8},{"p":"k","x":1.14,"y":0.49},{"p":"k","x":1.14,"y":0.22},{"p":"k","x":1.19,"y":0.41},{"p":"k","x":1.23,"y":1.21},{"p":"k","x":1.27,"y":1.5},{"p":"k","x":1.3,"y":0.3},{"p":"k","x":1.32,"y":0.96},{"p":"k","x":1.32,"y":0.49},{"p":"k","x":1.36,"y":0.37},{"p":"k","x":1.4,"y":0.7},{"p":"k","x":1.49,"y":0.96},{"p":"k","x":1.49,"y":0.53},{"p":"k","x":1.53,"y":0.41},{"p":"k","x":1.6,"y":0.8},{"p":"k","x":1.75,"y":0.92},{"p":"k","x":1.92,"y":1.7},{"p":"k","x":1.92,"y":1.47},{"p":"k","x":1.97,"y":1.04},{"p":"k","x":2.05,"y":1.15},{"p":"k","x":2.08,"y":1.78},{"p":"k","x":2.23,"y":1.8},{"p":"k","x":2.27,"y":0.88},{"p":"k","x":2.34,"y":1.74},{"p":"k","x":2.36,"y":1.58},
{"p":"l","x":0.04,"y":0.1},{"p":"l","x":0.09,"y":0.18},{"p":"l","x":0.13,"y":0.06},{"p":"l","x":0.13,"y":1.0},{"p":"l","x":0.17,"y":0.22},{"p":"l","x":0.17,"y":0.84},{"p":"l","x":0.2,"y":0.4},{"p":"l","x":0.26,"y":0.34},{"p":"l","x":0.26,"y":0.76},{"p":"l","x":0.3,"y":0.5},{"p":"l","x":0.35,"y":0.26},{"p":"l","x":0.35,"y":0.61},{"p":"l","x":0.39,"y":1.11},{"p":"l","x":0.43,"y":1.19},{"p":"l","x":0.43,"y":0.3},{"p":"l","x":0.48,"y":1.08},{"p":"l","x":0.48,"y":0.53},{"p":"l","x":0.52,"y":0.7},{"p":"l","x":0.56,"y":1.47},{"p":"l","x":0.56,"y":0.37},{"p":"l","x":0.6,"y":0.55},{"p":"l","x":0.61,"y":0.72},{"p":"l","x":0.65,"y":0.96},{"p":"l","x":0.69,"y":1.19},{"p":"l","x":0.69,"y":0.57},{"p":"l","x":0.72,"y":0.8},{"p":"l","x":0.78,"y":1.04},{"p":"l","x":0.82,"y":0.88},{"p":"l","x":0.85,"y":0.75},{"p":"l","x":0.9,"y":1.0},{"p":"l","x":0.95,"y":1.08},{"p":"l","x":0.95,"y":0.88},{"p":"l","x":1.0,"y":2.2},{"p":"l","x":1.04,"y":1.54},{"p":"l","x":1.04,"y":1.15},{"p":"l","x":1.08,"y":0.88},{"p":"l","x":1.12,"y":1.2},{"p":"l","x":1.17,"y":1.5},{"p":"l","x":1.17,"y":0.88},{"p":"l","x":1.21,"y":1.43},{"p":"l","x":1.26,"y":2.42},{"p":"l","x":1.3,"y":1.62},{"p":"l","x":1.34,"y":1.86},{"p":"l","x":1.39,"y":1.66},{"p":"l","x":1.45,"y":1.3},{"p":"l","x":1.47,"y":1.82},{"p":"l","x":1.52,"y":1.89},{"p":"l","x":1.6,"y":1.43},{"p":"l","x":1.65,"y":1.96},{"p":"l","x":1.75,"y":1.97},{"p":"l","x":1.78,"y":1.43},{"p":"l","x":1.86,"y":2.11},{"p":"l","x":1.91,"y":2.04},{"p":"l","x":1.99,"y":2.56},{"p":"l","x":2.0,"y":2.48},{"p":"l","x":2.12,"y":2.69},{"p":"l","x":2.12,"y":2.28},
{"p":"m","x":0.01,"y":0.02},{"p":"m","x":0.02,"y":0.1},{"p":"m","x":0.03,"y":0.2},{"p":"m","x":0.04,"y":0.05},{"p":"m","x":0.05,"y":0.3},{"p":"m","x":0.05,"y":0.15},{"p":"m","x":0.06,"y":0.45},{"p":"m","x":0.07,"y":0.08},{"p":"m","x":0.08,"y":0.25},{"p":"m","x":0.08,"y":0.55},{"p":"m","x":0.09,"y":0.12},{"p":"m","x":0.1,"y":0.35},{"p":"m","x":0.1,"y":0.02},{"p":"m","x":0.11,"y":0.2},{"p":"m","x":0.12,"y":0.5},{"p":"m","x":0.12,"y":0.1},{"p":"m","x":0.13,"y":0.28},{"p":"m","x":0.14,"y":0.05},{"p":"m","x":0.15,"y":0.4},{"p":"m","x":0.15,"y":0.18},{"p":"m","x":0.16,"y":0.32},{"p":"m","x":0.17,"y":0.08},{"p":"m","x":0.18,"y":0.22},{"p":"m","x":0.19,"y":0.45},{"p":"m","x":0.2,"y":0.12},{"p":"m","x":0.2,"y":0.3},{"p":"m","x":0.21,"y":0.03},{"p":"m","x":0.22,"y":0.2},{"p":"m","x":0.23,"y":0.38},{"p":"m","x":0.24,"y":0.1},{"p":"m","x":0.25,"y":0.25},{"p":"m","x":0.26,"y":0.15},{"p":"m","x":0.27,"y":0.63},{"p":"m","x":0.28,"y":0.05},{"p":"m","x":0.3,"y":0.2},{"p":"m","x":0.32,"y":0.35},{"p":"m","x":0.35,"y":0.1},{"p":"m","x":0.36,"y":0.04},{"p":"m","x":0.09,"y":0.94},{"p":"m","x":0.19,"y":1.32},{"p":"m","x":0.44,"y":1.15},{"p":"m","x":0.44,"y":0.63},{"p":"m","x":1.1,"y":0.03},{"p":"m","x":1.25,"y":3.02},{"p":"m","x":0.04,"y":0.4},{"p":"m","x":0.02,"y":0.35},{"p":"m","x":0.06,"y":0.5},{"p":"m","x":0.14,"y":0.6},
{"p":"n","x":0.01,"y":0.02},{"p":"n","x":0.02,"y":0.1},{"p":"n","x":0.03,"y":0.2},{"p":"n","x":0.04,"y":0.05},{"p":"n","x":0.05,"y":0.15},{"p":"n","x":0.06,"y":0.3},{"p":"n","x":0.07,"y":0.08},{"p":"n","x":0.08,"y":0.22},{"p":"n","x":0.09,"y":0.12},{"p":"n","x":0.1,"y":0.02},{"p":"n","x":0.1,"y":0.28},{"p":"n","x":0.11,"y":0.18},{"p":"n","x":0.12,"y":0.06},{"p":"n","x":0.13,"y":0.25},{"p":"n","x":0.14,"y":0.12},{"p":"n","x":0.15,"y":0.04},{"p":"n","x":0.16,"y":0.2},{"p":"n","x":0.17,"y":0.73},{"p":"n","x":0.18,"y":0.1},{"p":"n","x":0.19,"y":0.5},{"p":"n","x":0.2,"y":0.15},{"p":"n","x":0.21,"y":0.05},{"p":"n","x":0.22,"y":0.22},{"p":"n","x":0.24,"y":0.1},{"p":"n","x":0.25,"y":0.18},{"p":"n","x":0.27,"y":0.08},{"p":"n","x":0.28,"y":0.25},{"p":"n","x":0.3,"y":0.12},{"p":"n","x":0.32,"y":0.04},{"p":"n","x":0.35,"y":0.71},{"p":"n","x":0.35,"y":0.15},{"p":"n","x":0.42,"y":0.29},{"p":"n","x":0.1,"y":0.4},{"p":"n","x":1.1,"y":0.62},{"p":"n","x":1.25,"y":0.77},{"p":"n","x":2.82,"y":1.18},
{"p":"o","x":0.01,"y":0.01},{"p":"o","x":0.02,"y":0.05},{"p":"o","x":0.03,"y":0.02},{"p":"o","x":0.04,"y":0.08},{"p":"o","x":0.05,"y":0.03},{"p":"o","x":0.06,"y":0.1},{"p":"o","x":0.07,"y":0.04},{"p":"o","x":0.08,"y":0.01},{"p":"o","x":0.09,"y":0.06},{"p":"o","x":0.1,"y":0.12},{"p":"o","x":0.11,"y":0.03},{"p":"o","x":0.12,"y":0.07},{"p":"o","x":0.13,"y":0.02},{"p":"o","x":0.14,"y":0.09},{"p":"o","x":0.15,"y":0.05},{"p":"o","x":0.16,"y":0.01},{"p":"o","x":0.17,"y":0.04},{"p":"o","x":0.18,"y":0.08},{"p":"o","x":0.19,"y":0.33},{"p":"o","x":0.2,"y":0.03},{"p":"o","x":0.22,"y":0.06},{"p":"o","x":0.24,"y":0.02},{"p":"o","x":0.26,"y":0.05},{"p":"o","x":0.28,"y":0.1},{"p":"o","x":0.3,"y":0.03},{"p":"o","x":0.33,"y":0.07},{"p":"o","x":0.36,"y":0.15},{"p":"o","x":0.45,"y":0.09},{"p":"o","x":1.09,"y":1.52},{"p":"o","x":1.26,"y":0.42},{"p":"o","x":2.84,"y":0.9},
{"p":"p","x":0.01,"y":0.02},{"p":"p","x":0.01,"y":0.52},{"p":"p","x":0.02,"y":0.1},{"p":"p","x":0.03,"y":0.2},{"p":"p","x":0.04,"y":0.05},{"p":"p","x":0.05,"y":0.15},{"p":"p","x":0.06,"y":0.3},{"p":"p","x":0.07,"y":0.08},{"p":"p","x":0.08,"y":0.22},{"p":"p","x":0.09,"y":0.12},{"p":"p","x":0.1,"y":0.02},{"p":"p","x":0.1,"y":0.28},{"p":"p","x":0.12,"y":0.18},{"p":"p","x":0.13,"y":0.06},{"p":"p","x":0.14,"y":0.25},{"p":"p","x":0.15,"y":0.12},{"p":"p","x":0.16,"y":0.04},{"p":"p","x":0.18,"y":0.2},{"p":"p","x":0.2,"y":0.1},{"p":"p","x":0.22,"y":0.3},{"p":"p","x":0.24,"y":0.15},{"p":"p","x":0.25,"y":0.05},{"p":"p","x":0.27,"y":0.22},{"p":"p","x":0.28,"y":0.35},{"p":"p","x":0.3,"y":0.12},{"p":"p","x":0.32,"y":0.25},{"p":"p","x":0.35,"y":0.18},{"p":"p","x":0.38,"y":0.3},{"p":"p","x":1.07,"y":1.35},{"p":"p","x":1.24,"y":0.91},{"p":"p","x":2.81,"y":1.01}
],
"lns":[
{"p":"a","k":"one","x":0,"y":0},{"p":"a","k":"one","x":5,"y":5},{"p":"a","k":"reg","x":0,"y":0.5281},{"p":"a","k":"reg","x":5,"y":2.7126},
{"p":"b","k":"one","x":0,"y":0},{"p":"b","k":"one","x":5,"y":5},{"p":"b","k":"reg","x":0,"y":0.3781},{"p":"b","k":"reg","x":5,"y":3.6301},
{"p":"c","k":"one","x":0,"y":0},{"p":"c","k":"one","x":5,"y":5},{"p":"c","k":"reg","x":0,"y":0.0552},{"p":"c","k":"reg","x":5,"y":1.5182},
{"p":"d","k":"one","x":0,"y":0},{"p":"d","k":"one","x":5,"y":5},{"p":"d","k":"reg","x":0,"y":0.6532},{"p":"d","k":"reg","x":5,"y":3.6717},
{"p":"e","k":"one","x":0,"y":0},{"p":"e","k":"one","x":10,"y":10},{"p":"e","k":"reg","x":0,"y":0.2398},{"p":"e","k":"reg","x":10,"y":9.8668},
{"p":"f","k":"one","x":0,"y":0},{"p":"f","k":"one","x":10,"y":10},{"p":"f","k":"reg","x":0,"y":0.5984},{"p":"f","k":"reg","x":10,"y":9.5384},
{"p":"g","k":"one","x":0,"y":0},{"p":"g","k":"one","x":10,"y":10},{"p":"g","k":"reg","x":0,"y":0.0104},{"p":"g","k":"reg","x":10,"y":5.6904},
{"p":"h","k":"one","x":0,"y":0},{"p":"h","k":"one","x":10,"y":10},{"p":"h","k":"reg","x":0,"y":0.3554},{"p":"h","k":"reg","x":9.1366,"y":10},
{"p":"i","k":"one","x":0,"y":0},{"p":"i","k":"one","x":4,"y":4},{"p":"i","k":"reg","x":0,"y":0.3429},{"p":"i","k":"reg","x":4,"y":3.7769},
{"p":"j","k":"one","x":0,"y":0},{"p":"j","k":"one","x":4,"y":4},{"p":"j","k":"reg","x":0,"y":0.2852},{"p":"j","k":"reg","x":4,"y":3.4232},
{"p":"k","k":"one","x":0,"y":0},{"p":"k","k":"one","x":4,"y":4},{"p":"k","k":"reg","x":0.0493,"y":0},{"p":"k","k":"reg","x":4,"y":2.1172},
{"p":"l","k":"one","x":0,"y":0},{"p":"l","k":"one","x":4,"y":4},{"p":"l","k":"reg","x":0,"y":0.3004},{"p":"l","k":"reg","x":4,"y":3.7064},
{"p":"m","k":"one","x":0,"y":0},{"p":"m","k":"one","x":4,"y":4},{"p":"m","k":"reg","x":0,"y":0.186},{"p":"m","k":"reg","x":4,"y":1.9704},
{"p":"n","k":"one","x":0,"y":0},{"p":"n","k":"one","x":4,"y":4},{"p":"n","k":"reg","x":0,"y":0.0734},{"p":"n","k":"reg","x":4,"y":1.8382},
{"p":"o","k":"one","x":0,"y":0},{"p":"o","k":"one","x":4,"y":4},{"p":"o","k":"reg","x":0.0444,"y":0},{"p":"o","k":"reg","x":4,"y":1.6582},
{"p":"p","k":"one","x":0,"y":0},{"p":"p","k":"one","x":4,"y":4},{"p":"p","k":"reg","x":0,"y":0.1172},{"p":"p","k":"reg","x":4,"y":1.8792}
],
"t":[
{"p":"a","s":"RMSE=0.74 mm/day\nRRMSE=75.25%\nRB=-2.53%\nR=0.54","r":"R²=0.29","e":"y=0.5281+0.4369x","l":"(a)"},
{"p":"b","s":"RMSE=0.5 mm/day\nRRMSE=51.37%\nRB=3.54%\nR=0.8","r":"R²=0.63","e":"y=0.3781+0.6504x","l":"(b)"},
{"p":"c","s":"RMSE=0.93 mm/day\nRRMSE=95.04%\nRB=-65.11%\nR=0.58","r":"R²=0.33","e":"y=0.0552+0.2926x","l":"(c)"},
{"p":"d","s":"RMSE=0.64 mm/day\nRRMSE=65.25%\nRB=26.9%\nR=0.72","r":"R²=0.52","e":"y=0.6532+0.6037x","l":"(d)"},
{"p":"e","s":"RMSE=0.89 mm/day\nRRMSE=29.07%\nRB=4.07%\nR=0.84","r":"R²=0.7032","e":"y=0.2398+0.9627x","l":"(e)"},
{"p":"f","s":"RMSE=0.92 mm/day\nRRMSE=29.89%\nRB=8.88%\nR=0.83","r":"R²=0.68","e":"y=0.5984+0.894x","l":"(f)"},
{"p":"g","s":"RMSE=1.67 mm/day\nRRMSE=54.33%\nRB=-42.86%\nR=0.7","r":"R²=0.49","e":"y=0.0104+0.568x","l":"(g)"},
{"p":"h","s":"RMSE=1.01 mm/day\nRRMSE=32.91%\nRB=17.13%\nR=0.87","r":"R²=0.75","e":"y=0.3554+1.0556x","l":"(h)"},
{"p":"i","s":"RMSE=0.48 mm/day\nRRMSE=45.99%\nRB=19.05%\nR=0.79","r":"R²=0.6233","e":"y=-0.3429+0.8585x","l":"(i)"},
{"p":"j","s":"RMSE=0.3385 mm/day\nRRMSE=32.77%\nRB=6.06%\nR=0.85","r":"R²=0.73","e":"y=0.2852+0.7845x","l":"(j)"},
{"p":"k","s":"RMSE=0.65 mm/day\nRRMSE=62.52%\nRB=-48.97%\nR=0.78","r":"R²=0.61","e":"y=-0.0264+0.5359x","l":"(k)"},
{"p":"l","s":"RMSE=0.344 mm/day\nRRMSE=33.34%\nRB=14.24%\nR=0.88","r":"R²=0.77","e":"y=0.3004+0.8515x","l":"(l)"},
{"p":"m","s":"RMSE=0.39 mm/day\nRRMSE=264.35%\nRB=71.52%\nR=0.4","r":"R²=0.1626","e":"y=0.886+0.4461x","l":"(m)"},
{"p":"n","s":"RMSE=0.21 mm/day\nRRMSE=142.24%\nRB=-6.47%\nR=0.81","r":"R²=0.66","e":"y=0.0734+0.4412x","l":"(n)"},
{"p":"o","s":"RMSE=0.25 mm/day\nRRMSE=167.74%\nRB=-70.62%\nR=0.75","r":"R²=0.56","e":"y=-0.0186+0.4192x","l":"(o)"},
{"p":"p","s":"RMSE=0.22 mm/day\nRRMSE=148.52%\nRB=22.9%\nR=0.77","r":"R²=0.6","e":"y=0.1172+0.4405x","l":"(p)"}
]
},
"columns":4,
"spacing":{"row":25,"column":38},
"bounds":"flush",
"concat":[
{"width":172,"height":171,"title":{"text":"CMORPH-CRT"},"resolve":{"axis":{"x":"independent","y":"independent"}},"layer":[
{"data":{"name":"pts"},"transform":[{"filter":"datum.p=='a'"}],"mark":{"type":"circle","size":11,"color":"#0000ff","opacity":1},"encoding":{"x":{"field":"x","type":"quantitative","scale":{"domain":[0,5],"nice":false},"axis":{"values":[0,2,4],"title":null}},"y":{"field":"y","type":"quantitative","scale":{"domain":[0,5],"nice":false},"axis":{"values":[0,2,4],"title":["Spring","Satellite (mm/day)"]}}}},
{"data":{"name":"lns"},"transform":[{"filter":"datum.p=='a'"}],"mark":{"type":"line","strokeWidth":1,"clip":true},"encoding":{"x":{"field":"x","type":"quantitative","scale":{"domain":[0,5],"nice":false},"axis":{"orient":"top","values":[0,2,4],"labels":false,"title":null}},"y":{"field":"y","type":"quantitative","scale":{"domain":[0,5],"nice":false},"axis":{"orient":"right","values":[0,2,4],"labels":false,"title":null}},"color":{"field":"k","type":"nominal","scale":{"domain":["one","reg"],"range":["#3a3aff","#ff0000"]},"legend":null}}},
{"data":{"name":"t"},"transform":[{"filter":"datum.p=='a'"}],"layer":[
{"mark":{"type":"text","align":"left","baseline":"top","lineBreak":"\n","lineHeight":15,"dx":2,"dy":1},"encoding":{"text":{"field":"s"},"x":{"datum":0,"type":"quantitative","axis":null},"y":{"datum":5,"type":"quantitative","axis":null}}},
{"mark":{"type":"text","align":"center","baseline":"middle"},"encoding":{"text":{"field":"r"},"x":{"datum":3.375,"type":"quantitative","axis":null},"y":{"datum":0.7,"type":"quantitative","axis":null}}},
{"mark":{"type":"text","align":"center","baseline":"middle"},"encoding":{"text":{"field":"e"},"x":{"datum":2.875,"type":"quantitative","axis":null},"y":{"datum":0.235,"type":"quantitative","axis":null}}},
{"mark":{"type":"text","align":"right","baseline":"middle","fontSize":19,"fontWeight":"bold","dx":-4},"encoding":{"text":{"field":"l"},"x":{"datum":5,"type":"quantitative","axis":null},"y":{"datum":3.48,"type":"quantitative","axis":null}}}]}]},
{"width":172,"height":171,"title":{"text":"R-IMERG V03D"},"resolve":{"axis":{"x":"independent","y":"independent"}},"layer":[
{"data":{"name":"pts"},"transform":[{"filter":"datum.p=='b'"}],"mark":{"type":"circle","size":11,"color":"#0000ff","opacity":1},"encoding":{"x":{"field":"x","type":"quantitative","scale":{"domain":[0,5],"nice":false},"axis":{"values":[0,2,4],"title":null}},"y":{"field":"y","type":"quantitative","scale":{"domain":[0,5],"nice":false},"axis":{"values":[0,2,4],"title":null}}}},
{"data":{"name":"lns"},"transform":[{"filter":"datum.p=='b'"}],"mark":{"type":"line","strokeWidth":1,"clip":true},"encoding":{"x":{"field":"x","type":"quantitative","scale":{"domain":[0,5],"nice":false},"axis":{"orient":"top","values":[0,2,4],"labels":false,"title":null}},"y":{"field":"y","type":"quantitative","scale":{"domain":[0,5],"nice":false},"axis":{"orient":"right","values":[0,2,4],"labels":false,"title":null}},"color":{"field":"k","type":"nominal","scale":{"domain":["one","reg"],"range":["#3a3aff","#ff0000"]},"legend":null}}},
{"data":{"name":"t"},"transform":[{"filter":"datum.p=='b'"}],"layer":[
{"mark":{"type":"text","align":"left","baseline":"top","lineBreak":"\n","lineHeight":15,"dx":2,"dy":1},"encoding":{"text":{"field":"s"},"x":{"datum":0,"type":"quantitative","axis":null},"y":{"datum":5,"type":"quantitative","axis":null}}},
{"mark":{"type":"text","align":"center","baseline":"middle"},"encoding":{"text":{"field":"r"},"x":{"datum":3.375,"type":"quantitative","axis":null},"y":{"datum":0.7,"type":"quantitative","axis":null}}},
{"mark":{"type":"text","align":"center","baseline":"middle"},"encoding":{"text":{"field":"e"},"x":{"datum":2.875,"type":"quantitative","axis":null},"y":{"datum":0.235,"type":"quantitative","axis":null}}},
{"mark":{"type":"text","align":"right","baseline":"middle","fontSize":19,"fontWeight":"bold","dx":-4},"encoding":{"text":{"field":"l"},"x":{"datum":5,"type":"quantitative","axis":null},"y":{"datum":3.48,"type":"quantitative","axis":null}}}]}]},
{"width":172,"height":171,"title":{"text":"R-IMERG V04A"},"resolve":{"axis":{"x":"independent","y":"independent"}},"layer":[
{"data":{"name":"pts"},"transform":[{"filter":"datum.p=='c'"}],"mark":{"type":"circle","size":11,"color":"#0000ff","opacity":1},"encoding":{"x":{"field":"x","type":"quantitative","scale":{"domain":[0,5],"nice":false},"axis":{"values":[0,2,4],"title":null}},"y":{"field":"y","type":"quantitative","scale":{"domain":[0,5],"nice":false},"axis":{"values":[0,2,4],"title":null}}}},
{"data":{"name":"lns"},"transform":[{"filter":"datum.p=='c'"}],"mark":{"type":"line","strokeWidth":1,"clip":true},"encoding":{"x":{"field":"x","type":"quantitative","scale":{"domain":[0,5],"nice":false},"axis":{"orient":"top","values":[0,2,4],"labels":false,"title":null}},"y":{"field":"y","type":"quantitative","scale":{"domain":[0,5],"nice":false},"axis":{"orient":"right","values":[0,2,4],"labels":false,"title":null}},"color":{"field":"k","type":"nominal","scale":{"domain":["one","reg"],"range":["#3a3aff","#ff0000"]},"legend":null}}},
{"data":{"name":"t"},"transform":[{"filter":"datum.p=='c'"}],"layer":[
{"mark":{"type":"text","align":"left","baseline":"top","lineBreak":"\n","lineHeight":15,"dx":2,"dy":1},"encoding":{"text":{"field":"s"},"x":{"datum":0,"type":"quantitative","axis":null},"y":{"datum":5,"type":"quantitative","axis":null}}},
{"mark":{"type":"text","align":"center","baseline":"middle"},"encoding":{"text":{"field":"r"},"x":{"datum":3.375,"type":"quantitative","axis":null},"y":{"datum":0.7,"type":"quantitative","axis":null}}},
{"mark":{"type":"text","align":"center","baseline":"middle"},"encoding":{"text":{"field":"e"},"x":{"datum":2.875,"type":"quantitative","axis":null},"y":{"datum":0.235,"type":"quantitative","axis":null}}},
{"mark":{"type":"text","align":"right","baseline":"middle","fontSize":19,"fontWeight":"bold","dx":-4},"encoding":{"text":{"field":"l"},"x":{"datum":5,"type":"quantitative","axis":null},"y":{"datum":3.48,"type":"quantitative","axis":null}}}]}]},
{"width":172,"height":171,"title":{"text":"TRMM 3B42"},"resolve":{"axis":{"x":"independent","y":"independent"}},"layer":[
{"data":{"name":"pts"},"transform":[{"filter":"datum.p=='d'"}],"mark":{"type":"circle","size":11,"color":"#0000ff","opacity":1},"encoding":{"x":{"field":"x","type":"quantitative","scale":{"domain":[0,5],"nice":false},"axis":{"values":[0,2,4],"title":null}},"y":{"field":"y","type":"quantitative","scale":{"domain":[0,5],"nice":false},"axis":{"values":[0,2,4],"title":null}}}},
{"data":{"name":"lns"},"transform":[{"filter":"datum.p=='d'"}],"mark":{"type":"line","strokeWidth":1,"clip":true},"encoding":{"x":{"field":"x","type":"quantitative","scale":{"domain":[0,5],"nice":false},"axis":{"orient":"top","values":[0,2,4],"labels":false,"title":null}},"y":{"field":"y","type":"quantitative","scale":{"domain":[0,5],"nice":false},"axis":{"orient":"right","values":[0,2,4],"labels":false,"title":null}},"color":{"field":"k","type":"nominal","scale":{"domain":["one","reg"],"range":["#3a3aff","#ff0000"]},"legend":null}}},
{"data":{"name":"t"},"transform":[{"filter":"datum.p=='d'"}],"layer":[
{"mark":{"type":"text","align":"left","baseline":"top","lineBreak":"\n","lineHeight":15,"dx":2,"dy":1},"encoding":{"text":{"field":"s"},"x":{"datum":0,"type":"quantitative","axis":null},"y":{"datum":5,"type":"quantitative","axis":null}}},
{"mark":{"type":"text","align":"center","baseline":"middle"},"encoding":{"text":{"field":"r"},"x":{"datum":3.375,"type":"quantitative","axis":null},"y":{"datum":0.7,"type":"quantitative","axis":null}}},
{"mark":{"type":"text","align":"center","baseline":"middle"},"encoding":{"text":{"field":"e"},"x":{"datum":2.875,"type":"quantitative","axis":null},"y":{"datum":0.235,"type":"quantitative","axis":null}}},
{"mark":{"type":"text","align":"right","baseline":"middle","fontSize":19,"fontWeight":"bold","dx":-4},"encoding":{"text":{"field":"l"},"x":{"datum":5,"type":"quantitative","axis":null},"y":{"datum":3.48,"type":"quantitative","axis":null}}}]}]},
{"width":172,"height":171,"resolve":{"axis":{"x":"independent","y":"independent"}},"layer":[
{"data":{"name":"pts"},"transform":[{"filter":"datum.p=='e'"}],"mark":{"type":"circle","size":11,"color":"#0000ff","opacity":1},"encoding":{"x":{"field":"x","type":"quantitative","scale":{"domain":[0,10],"nice":false},"axis":{"values":[0,5,10],"title":null}},"y":{"field":"y","type":"quantitative","scale":{"domain":[0,10],"nice":false},"axis":{"values":[0,5,10],"title":["Summer","Satellite (mm/day)"]}}}},
{"data":{"name":"lns"},"transform":[{"filter":"datum.p=='e'"}],"mark":{"type":"line","strokeWidth":1,"clip":true},"encoding":{"x":{"field":"x","type":"quantitative","scale":{"domain":[0,10],"nice":false},"axis":{"orient":"top","values":[0,5,10],"labels":false,"title":null}},"y":{"field":"y","type":"quantitative","scale":{"domain":[0,10],"nice":false},"axis":{"orient":"right","values":[0,5,10],"labels":false,"title":null}},"color":{"field":"k","type":"nominal","scale":{"domain":["one","reg"],"range":["#3a3aff","#ff0000"]},"legend":null}}},
{"data":{"name":"t"},"transform":[{"filter":"datum.p=='e'"}],"layer":[
{"mark":{"type":"text","align":"left","baseline":"top","lineBreak":"\n","lineHeight":15,"dx":2,"dy":1},"encoding":{"text":{"field":"s"},"x":{"datum":0,"type":"quantitative","axis":null},"y":{"datum":10,"type":"quantitative","axis":null}}},
{"mark":{"type":"text","align":"center","baseline":"middle"},"encoding":{"text":{"field":"r"},"x":{"datum":6.75,"type":"quantitative","axis":null},"y":{"datum":1.4,"type":"quantitative","axis":null}}},
{"mark":{"type":"text","align":"center","baseline":"middle"},"encoding":{"text":{"field":"e"},"x":{"datum":5.75,"type":"quantitative","axis":null},"y":{"datum":0.47,"type":"quantitative","axis":null}}},
{"mark":{"type":"text","align":"right","baseline":"middle","fontSize":19,"fontWeight":"bold","dx":-4},"encoding":{"text":{"field":"l"},"x":{"datum":10,"type":"quantitative","axis":null},"y":{"datum":7.25,"type":"quantitative","axis":null}}}]}]},
{"width":172,"height":171,"resolve":{"axis":{"x":"independent","y":"independent"}},"layer":[
{"data":{"name":"pts"},"transform":[{"filter":"datum.p=='f'"}],"mark":{"type":"circle","size":11,"color":"#0000ff","opacity":1},"encoding":{"x":{"field":"x","type":"quantitative","scale":{"domain":[0,10],"nice":false},"axis":{"values":[0,5,10],"title":null}},"y":{"field":"y","type":"quantitative","scale":{"domain":[0,10],"nice":false},"axis":{"values":[0,5,10],"title":null}}}},
{"data":{"name":"lns"},"transform":[{"filter":"datum.p=='f'"}],"mark":{"type":"line","strokeWidth":1,"clip":true},"encoding":{"x":{"field":"x","type":"quantitative","scale":{"domain":[0,10],"nice":false},"axis":{"orient":"top","values":[0,5,10],"labels":false,"title":null}},"y":{"field":"y","type":"quantitative","scale":{"domain":[0,10],"nice":false},"axis":{"orient":"right","values":[0,5,10],"labels":false,"title":null}},"color":{"field":"k","type":"nominal","scale":{"domain":["one","reg"],"range":["#3a3aff","#ff0000"]},"legend":null}}},
{"data":{"name":"t"},"transform":[{"filter":"datum.p=='f'"}],"layer":[
{"mark":{"type":"text","align":"left","baseline":"top","lineBreak":"\n","lineHeight":15,"dx":2,"dy":1},"encoding":{"text":{"field":"s"},"x":{"datum":0,"type":"quantitative","axis":null},"y":{"datum":10,"type":"quantitative","axis":null}}},
{"mark":{"type":"text","align":"center","baseline":"middle"},"encoding":{"text":{"field":"r"},"x":{"datum":6.75,"type":"quantitative","axis":null},"y":{"datum":1.4,"type":"quantitative","axis":null}}},
{"mark":{"type":"text","align":"center","baseline":"middle"},"encoding":{"text":{"field":"e"},"x":{"datum":5.75,"type":"quantitative","axis":null},"y":{"datum":0.47,"type":"quantitative","axis":null}}},
{"mark":{"type":"text","align":"right","baseline":"middle","fontSize":19,"fontWeight":"bold","dx":-4},"encoding":{"text":{"field":"l"},"x":{"datum":10,"type":"quantitative","axis":null},"y":{"datum":7.25,"type":"quantitative","axis":null}}}]}]},
{"width":172,"height":171,"resolve":{"axis":{"x":"independent","y":"independent"}},"layer":[
{"data":{"name":"pts"},"transform":[{"filter":"datum.p=='g'"}],"mark":{"type":"circle","size":11,"color":"#0000ff","opacity":1},"encoding":{"x":{"field":"x","type":"quantitative","scale":{"domain":[0,10],"nice":false},"axis":{"values":[0,5,10],"title":null}},"y":{"field":"y","type":"quantitative","scale":{"domain":[0,10],"nice":false},"axis":{"values":[0,5,10],"title":null}}}},
{"data":{"name":"lns"},"transform":[{"filter":"datum.p=='g'"}],"mark":{"type":"line","strokeWidth":1,"clip":true},"encoding":{"x":{"field":"x","type":"quantitative","scale":{"domain":[0,10],"nice":false},"axis":{"orient":"top","values":[0,5,10],"labels":false,"title":null}},"y":{"field":"y","type":"quantitative","scale":{"domain":[0,10],"nice":false},"axis":{"orient":"right","values":[0,5,10],"labels":false,"title":null}},"color":{"field":"k","type":"nominal","scale":{"domain":["one","reg"],"range":["#3a3aff","#ff0000"]},"legend":null}}},
{"data":{"name":"t"},"transform":[{"filter":"datum.p=='g'"}],"layer":[
{"mark":{"type":"text","align":"left","baseline":"top","lineBreak":"\n","lineHeight":15,"dx":2,"dy":1},"encoding":{"text":{"field":"s"},"x":{"datum":0,"type":"quantitative","axis":null},"y":{"datum":10,"type":"quantitative","axis":null}}},
{"mark":{"type":"text","align":"center","baseline":"middle"},"encoding":{"text":{"field":"r"},"x":{"datum":6.75,"type":"quantitative","axis":null},"y":{"datum":1.4,"type":"quantitative","axis":null}}},
{"mark":{"type":"text","align":"center","baseline":"middle"},"encoding":{"text":{"field":"e"},"x":{"datum":5.75,"type":"quantitative","axis":null},"y":{"datum":0.47,"type":"quantitative","axis":null}}},
{"mark":{"type":"text","align":"right","baseline":"middle","fontSize":19,"fontWeight":"bold","dx":-4},"encoding":{"text":{"field":"l"},"x":{"datum":10,"type":"quantitative","axis":null},"y":{"datum":7.25,"type":"quantitative","axis":null}}}]}]},
{"width":172,"height":171,"resolve":{"axis":{"x":"independent","y":"independent"}},"layer":[
{"data":{"name":"pts"},"transform":[{"filter":"datum.p=='h'"}],"mark":{"type":"circle","size":11,"color":"#0000ff","opacity":1},"encoding":{"x":{"field":"x","type":"quantitative","scale":{"domain":[0,10],"nice":false},"axis":{"values":[0,5,10],"title":null}},"y":{"field":"y","type":"quantitative","scale":{"domain":[0,10],"nice":false},"axis":{"values":[0,5,10],"title":null}}}},
{"data":{"name":"lns"},"transform":[{"filter":"datum.p=='h'"}],"mark":{"type":"line","strokeWidth":1,"clip":true},"encoding":{"x":{"field":"x","type":"quantitative","scale":{"domain":[0,10],"nice":false},"axis":{"orient":"top","values":[0,5,10],"labels":false,"title":null}},"y":{"field":"y","type":"quantitative","scale":{"domain":[0,10],"nice":false},"axis":{"orient":"right","values":[0,5,10],"labels":false,"title":null}},"color":{"field":"k","type":"nominal","scale":{"domain":["one","reg"],"range":["#3a3aff","#ff0000"]},"legend":null}}},
{"data":{"name":"t"},"transform":[{"filter":"datum.p=='h'"}],"layer":[
{"mark":{"type":"text","align":"left","baseline":"top","lineBreak":"\n","lineHeight":15,"dx":2,"dy":1},"encoding":{"text":{"field":"s"},"x":{"datum":0,"type":"quantitative","axis":null},"y":{"datum":10,"type":"quantitative","axis":null}}},
{"mark":{"type":"text","align":"center","baseline":"middle"},"encoding":{"text":{"field":"r"},"x":{"datum":6.75,"type":"quantitative","axis":null},"y":{"datum":1.4,"type":"quantitative","axis":null}}},
{"mark":{"type":"text","align":"center","baseline":"middle"},"encoding":{"text":{"field":"e"},"x":{"datum":5.75,"type":"quantitative","axis":null},"y":{"datum":0.47,"type":"quantitative","axis":null}}},
{"mark":{"type":"text","align":"right","baseline":"middle","fontSize":19,"fontWeight":"bold","dx":-4},"encoding":{"text":{"field":"l"},"x":{"datum":10,"type":"quantitative","axis":null},"y":{"datum":7.25,"type":"quantitative","axis":null}}}]}]},
{"width":172,"height":171,"resolve":{"axis":{"x":"independent","y":"independent"}},"layer":[
{"data":{"name":"pts"},"transform":[{"filter":"datum.p=='i'"}],"mark":{"type":"circle","size":11,"color":"#0000ff","opacity":1},"encoding":{"x":{"field":"x","type":"quantitative","scale":{"domain":[0,4],"nice":false},"axis":{"values":[0,2,4],"title":null}},"y":{"field":"y","type":"quantitative","scale":{"domain":[0,4],"nice":false},"axis":{"values":[0,2,4],"title":["Autumn","Satellite (mm/day)"]}}}},
{"data":{"name":"lns"},"transform":[{"filter":"datum.p=='i'"}],"mark":{"type":"line","strokeWidth":1,"clip":true},"encoding":{"x":{"field":"x","type":"quantitative","scale":{"domain":[0,4],"nice":false},"axis":{"orient":"top","values":[0,2,4],"labels":false,"title":null}},"y":{"field":"y","type":"quantitative","scale":{"domain":[0,4],"nice":false},"axis":{"orient":"right","values":[0,2,4],"labels":false,"title":null}},"color":{"field":"k","type":"nominal","scale":{"domain":["one","reg"],"range":["#3a3aff","#ff0000"]},"legend":null}}},
{"data":{"name":"t"},"transform":[{"filter":"datum.p=='i'"}],"layer":[
{"mark":{"type":"text","align":"left","baseline":"top","lineBreak":"\n","lineHeight":15,"dx":2,"dy":1},"encoding":{"text":{"field":"s"},"x":{"datum":0,"type":"quantitative","axis":null},"y":{"datum":4,"type":"quantitative","axis":null}}},
{"mark":{"type":"text","align":"center","baseline":"middle"},"encoding":{"text":{"field":"r"},"x":{"datum":2.7,"type":"quantitative","axis":null},"y":{"datum":0.56,"type":"quantitative","axis":null}}},
{"mark":{"type":"text","align":"center","baseline":"middle"},"encoding":{"text":{"field":"e"},"x":{"datum":2.3,"type":"quantitative","axis":null},"y":{"datum":0.19,"type":"quantitative","axis":null}}},
{"mark":{"type":"text","align":"right","baseline":"middle","fontSize":19,"fontWeight":"bold","dx":-4},"encoding":{"text":{"field":"l"},"x":{"datum":4,"type":"quantitative","axis":null},"y":{"datum":2.49,"type":"quantitative","axis":null}}}]}]},
{"width":172,"height":171,"resolve":{"axis":{"x":"independent","y":"independent"}},"layer":[
{"data":{"name":"pts"},"transform":[{"filter":"datum.p=='j'"}],"mark":{"type":"circle","size":11,"color":"#0000ff","opacity":1},"encoding":{"x":{"field":"x","type":"quantitative","scale":{"domain":[0,4],"nice":false},"axis":{"values":[0,2,4],"title":null}},"y":{"field":"y","type":"quantitative","scale":{"domain":[0,4],"nice":false},"axis":{"values":[0,2,4],"title":null}}}},
{"data":{"name":"lns"},"transform":[{"filter":"datum.p=='j'"}],"mark":{"type":"line","strokeWidth":1,"clip":true},"encoding":{"x":{"field":"x","type":"quantitative","scale":{"domain":[0,4],"nice":false},"axis":{"orient":"top","values":[0,2,4],"labels":false,"title":null}},"y":{"field":"y","type":"quantitative","scale":{"domain":[0,4],"nice":false},"axis":{"orient":"right","values":[0,2,4],"labels":false,"title":null}},"color":{"field":"k","type":"nominal","scale":{"domain":["one","reg"],"range":["#3a3aff","#ff0000"]},"legend":null}}},
{"data":{"name":"t"},"transform":[{"filter":"datum.p=='j'"}],"layer":[
{"mark":{"type":"text","align":"left","baseline":"top","lineBreak":"\n","lineHeight":15,"dx":2,"dy":1},"encoding":{"text":{"field":"s"},"x":{"datum":0,"type":"quantitative","axis":null},"y":{"datum":4,"type":"quantitative","axis":null}}},
{"mark":{"type":"text","align":"center","baseline":"middle"},"encoding":{"text":{"field":"r"},"x":{"datum":2.7,"type":"quantitative","axis":null},"y":{"datum":0.56,"type":"quantitative","axis":null}}},
{"mark":{"type":"text","align":"center","baseline":"middle"},"encoding":{"text":{"field":"e"},"x":{"datum":2.3,"type":"quantitative","axis":null},"y":{"datum":0.19,"type":"quantitative","axis":null}}},
{"mark":{"type":"text","align":"right","baseline":"middle","fontSize":19,"fontWeight":"bold","dx":-4},"encoding":{"text":{"field":"l"},"x":{"datum":4,"type":"quantitative","axis":null},"y":{"datum":2.49,"type":"quantitative","axis":null}}}]}]},
{"width":172,"height":171,"resolve":{"axis":{"x":"independent","y":"independent"}},"layer":[
{"data":{"name":"pts"},"transform":[{"filter":"datum.p=='k'"}],"mark":{"type":"circle","size":11,"color":"#0000ff","opacity":1},"encoding":{"x":{"field":"x","type":"quantitative","scale":{"domain":[0,4],"nice":false},"axis":{"values":[0,2,4],"title":null}},"y":{"field":"y","type":"quantitative","scale":{"domain":[0,4],"nice":false},"axis":{"values":[0,2,4],"title":null}}}},
{"data":{"name":"lns"},"transform":[{"filter":"datum.p=='k'"}],"mark":{"type":"line","strokeWidth":1,"clip":true},"encoding":{"x":{"field":"x","type":"quantitative","scale":{"domain":[0,4],"nice":false},"axis":{"orient":"top","values":[0,2,4],"labels":false,"title":null}},"y":{"field":"y","type":"quantitative","scale":{"domain":[0,4],"nice":false},"axis":{"orient":"right","values":[0,2,4],"labels":false,"title":null}},"color":{"field":"k","type":"nominal","scale":{"domain":["one","reg"],"range":["#3a3aff","#ff0000"]},"legend":null}}},
{"data":{"name":"t"},"transform":[{"filter":"datum.p=='k'"}],"layer":[
{"mark":{"type":"text","align":"left","baseline":"top","lineBreak":"\n","lineHeight":15,"dx":2,"dy":1},"encoding":{"text":{"field":"s"},"x":{"datum":0,"type":"quantitative","axis":null},"y":{"datum":4,"type":"quantitative","axis":null}}},
{"mark":{"type":"text","align":"center","baseline":"middle"},"encoding":{"text":{"field":"r"},"x":{"datum":2.7,"type":"quantitative","axis":null},"y":{"datum":0.56,"type":"quantitative","axis":null}}},
{"mark":{"type":"text","align":"center","baseline":"middle"},"encoding":{"text":{"field":"e"},"x":{"datum":2.3,"type":"quantitative","axis":null},"y":{"datum":0.19,"type":"quantitative","axis":null}}},
{"mark":{"type":"text","align":"right","baseline":"middle","fontSize":19,"fontWeight":"bold","dx":-4},"encoding":{"text":{"field":"l"},"x":{"datum":4,"type":"quantitative","axis":null},"y":{"datum":2.49,"type":"quantitative","axis":null}}}]}]},
{"width":172,"height":171,"resolve":{"axis":{"x":"independent","y":"independent"}},"layer":[
{"data":{"name":"pts"},"transform":[{"filter":"datum.p=='l'"}],"mark":{"type":"circle","size":11,"color":"#0000ff","opacity":1},"encoding":{"x":{"field":"x","type":"quantitative","scale":{"domain":[0,4],"nice":false},"axis":{"values":[0,2,4],"title":null}},"y":{"field":"y","type":"quantitative","scale":{"domain":[0,4],"nice":false},"axis":{"values":[0,2,4],"title":null}}}},
{"data":{"name":"lns"},"transform":[{"filter":"datum.p=='l'"}],"mark":{"type":"line","strokeWidth":1,"clip":true},"encoding":{"x":{"field":"x","type":"quantitative","scale":{"domain":[0,4],"nice":false},"axis":{"orient":"top","values":[0,2,4],"labels":false,"title":null}},"y":{"field":"y","type":"quantitative","scale":{"domain":[0,4],"nice":false},"axis":{"orient":"right","values":[0,2,4],"labels":false,"title":null}},"color":{"field":"k","type":"nominal","scale":{"domain":["one","reg"],"range":["#3a3aff","#ff0000"]},"legend":null}}},
{"data":{"name":"t"},"transform":[{"filter":"datum.p=='l'"}],"layer":[
{"mark":{"type":"text","align":"left","baseline":"top","lineBreak":"\n","lineHeight":15,"dx":2,"dy":1},"encoding":{"text":{"field":"s"},"x":{"datum":0,"type":"quantitative","axis":null},"y":{"datum":4,"type":"quantitative","axis":null}}},
{"mark":{"type":"text","align":"center","baseline":"middle"},"encoding":{"text":{"field":"r"},"x":{"datum":2.7,"type":"quantitative","axis":null},"y":{"datum":0.56,"type":"quantitative","axis":null}}},
{"mark":{"type":"text","align":"center","baseline":"middle"},"encoding":{"text":{"field":"e"},"x":{"datum":2.3,"type":"quantitative","axis":null},"y":{"datum":0.19,"type":"quantitative","axis":null}}},
{"mark":{"type":"text","align":"right","baseline":"middle","fontSize":19,"fontWeight":"bold","dx":-4},"encoding":{"text":{"field":"l"},"x":{"datum":4,"type":"quantitative","axis":null},"y":{"datum":2.49,"type":"quantitative","axis":null}}}]}]},
{"width":172,"height":171,"resolve":{"axis":{"x":"independent","y":"independent"}},"layer":[
{"data":{"name":"pts"},"transform":[{"filter":"datum.p=='m'"}],"mark":{"type":"circle","size":11,"color":"#0000ff","opacity":1},"encoding":{"x":{"field":"x","type":"quantitative","scale":{"domain":[0,4],"nice":false},"axis":{"values":[0,2,4],"title":"Gauge (mm/day)"}},"y":{"field":"y","type":"quantitative","scale":{"domain":[0,4],"nice":false},"axis":{"values":[0,2,4],"title":["Winter","Satellite (mm/day)"]}}}},
{"data":{"name":"lns"},"transform":[{"filter":"datum.p=='m'"}],"mark":{"type":"line","strokeWidth":1,"clip":true},"encoding":{"x":{"field":"x","type":"quantitative","scale":{"domain":[0,4],"nice":false},"axis":{"orient":"top","values":[0,2,4],"labels":false,"title":null}},"y":{"field":"y","type":"quantitative","scale":{"domain":[0,4],"nice":false},"axis":{"orient":"right","values":[0,2,4],"labels":false,"title":null}},"color":{"field":"k","type":"nominal","scale":{"domain":["one","reg"],"range":["#3a3aff","#ff0000"]},"legend":null}}},
{"data":{"name":"t"},"transform":[{"filter":"datum.p=='m'"}],"layer":[
{"mark":{"type":"text","align":"left","baseline":"top","lineBreak":"\n","lineHeight":15,"dx":2,"dy":1},"encoding":{"text":{"field":"s"},"x":{"datum":0,"type":"quantitative","axis":null},"y":{"datum":4,"type":"quantitative","axis":null}}},
{"mark":{"type":"text","align":"center","baseline":"middle"},"encoding":{"text":{"field":"r"},"x":{"datum":2.7,"type":"quantitative","axis":null},"y":{"datum":0.56,"type":"quantitative","axis":null}}},
{"mark":{"type":"text","align":"center","baseline":"middle"},"encoding":{"text":{"field":"e"},"x":{"datum":2.3,"type":"quantitative","axis":null},"y":{"datum":0.19,"type":"quantitative","axis":null}}},
{"mark":{"type":"text","align":"right","baseline":"middle","fontSize":19,"fontWeight":"bold","dx":-4},"encoding":{"text":{"field":"l"},"x":{"datum":4,"type":"quantitative","axis":null},"y":{"datum":2.43,"type":"quantitative","axis":null}}}]}]},
{"width":172,"height":171,"resolve":{"axis":{"x":"independent","y":"independent"}},"layer":[
{"data":{"name":"pts"},"transform":[{"filter":"datum.p=='n'"}],"mark":{"type":"circle","size":11,"color":"#0000ff","opacity":1},"encoding":{"x":{"field":"x","type":"quantitative","scale":{"domain":[0,4],"nice":false},"axis":{"values":[0,2,4],"title":"Gauge (mm/day)"}},"y":{"field":"y","type":"quantitative","scale":{"domain":[0,4],"nice":false},"axis":{"values":[0,2,4],"title":null}}}},
{"data":{"name":"lns"},"transform":[{"filter":"datum.p=='n'"}],"mark":{"type":"line","strokeWidth":1,"clip":true},"encoding":{"x":{"field":"x","type":"quantitative","scale":{"domain":[0,4],"nice":false},"axis":{"orient":"top","values":[0,2,4],"labels":false,"title":null}},"y":{"field":"y","type":"quantitative","scale":{"domain":[0,4],"nice":false},"axis":{"orient":"right","values":[0,2,4],"labels":false,"title":null}},"color":{"field":"k","type":"nominal","scale":{"domain":["one","reg"],"range":["#3a3aff","#ff0000"]},"legend":null}}},
{"data":{"name":"t"},"transform":[{"filter":"datum.p=='n'"}],"layer":[
{"mark":{"type":"text","align":"left","baseline":"top","lineBreak":"\n","lineHeight":15,"dx":2,"dy":1},"encoding":{"text":{"field":"s"},"x":{"datum":0,"type":"quantitative","axis":null},"y":{"datum":4,"type":"quantitative","axis":null}}},
{"mark":{"type":"text","align":"center","baseline":"middle"},"encoding":{"text":{"field":"r"},"x":{"datum":2.7,"type":"quantitative","axis":null},"y":{"datum":0.56,"type":"quantitative","axis":null}}},
{"mark":{"type":"text","align":"center","baseline":"middle"},"encoding":{"text":{"field":"e"},"x":{"datum":2.3,"type":"quantitative","axis":null},"y":{"datum":0.19,"type":"quantitative","axis":null}}},
{"mark":{"type":"text","align":"right","baseline":"middle","fontSize":19,"fontWeight":"bold","dx":-4},"encoding":{"text":{"field":"l"},"x":{"datum":4,"type":"quantitative","axis":null},"y":{"datum":2.43,"type":"quantitative","axis":null}}}]}]},
{"width":172,"height":171,"resolve":{"axis":{"x":"independent","y":"independent"}},"layer":[
{"data":{"name":"pts"},"transform":[{"filter":"datum.p=='o'"}],"mark":{"type":"circle","size":11,"color":"#0000ff","opacity":1},"encoding":{"x":{"field":"x","type":"quantitative","scale":{"domain":[0,4],"nice":false},"axis":{"values":[0,2,4],"title":"Gauge (mm/day)"}},"y":{"field":"y","type":"quantitative","scale":{"domain":[0,4],"nice":false},"axis":{"values":[0,2,4],"title":null}}}},
{"data":{"name":"lns"},"transform":[{"filter":"datum.p=='o'"}],"mark":{"type":"line","strokeWidth":1,"clip":true},"encoding":{"x":{"field":"x","type":"quantitative","scale":{"domain":[0,4],"nice":false},"axis":{"orient":"top","values":[0,2,4],"labels":false,"title":null}},"y":{"field":"y","type":"quantitative","scale":{"domain":[0,4],"nice":false},"axis":{"orient":"right","values":[0,2,4],"labels":false,"title":null}},"color":{"field":"k","type":"nominal","scale":{"domain":["one","reg"],"range":["#3a3aff","#ff0000"]},"legend":null}}},
{"data":{"name":"t"},"transform":[{"filter":"datum.p=='o'"}],"layer":[
{"mark":{"type":"text","align":"left","baseline":"top","lineBreak":"\n","lineHeight":15,"dx":2,"dy":1},"encoding":{"text":{"field":"s"},"x":{"datum":0,"type":"quantitative","axis":null},"y":{"datum":4,"type":"quantitative","axis":null}}},
{"mark":{"type":"text","align":"center","baseline":"middle"},"encoding":{"text":{"field":"r"},"x":{"datum":2.7,"type":"quantitative","axis":null},"y":{"datum":0.56,"type":"quantitative","axis":null}}},
{"mark":{"type":"text","align":"center","baseline":"middle"},"encoding":{"text":{"field":"e"},"x":{"datum":2.3,"type":"quantitative","axis":null},"y":{"datum":0.19,"type":"quantitative","axis":null}}},
{"mark":{"type":"text","align":"right","baseline":"middle","fontSize":19,"fontWeight":"bold","dx":-4},"encoding":{"text":{"field":"l"},"x":{"datum":4,"type":"quantitative","axis":null},"y":{"datum":2.43,"type":"quantitative","axis":null}}}]}]},
{"width":172,"height":171,"resolve":{"axis":{"x":"independent","y":"independent"}},"layer":[
{"data":{"name":"pts"},"transform":[{"filter":"datum.p=='p'"}],"mark":{"type":"circle","size":11,"color":"#0000ff","opacity":1},"encoding":{"x":{"field":"x","type":"quantitative","scale":{"domain":[0,4],"nice":false},"axis":{"values":[0,2,4],"title":"Gauge (mm/day)"}},"y":{"field":"y","type":"quantitative","scale":{"domain":[0,4],"nice":false},"axis":{"values":[0,2,4],"title":null}}}},
{"data":{"name":"lns"},"transform":[{"filter":"datum.p=='p'"}],"mark":{"type":"line","strokeWidth":1,"clip":true},"encoding":{"x":{"field":"x","type":"quantitative","scale":{"domain":[0,4],"nice":false},"axis":{"orient":"top","values":[0,2,4],"labels":false,"title":null}},"y":{"field":"y","type":"quantitative","scale":{"domain":[0,4],"nice":false},"axis":{"orient":"right","values":[0,2,4],"labels":false,"title":null}},"color":{"field":"k","type":"nominal","scale":{"domain":["one","reg"],"range":["#3a3aff","#ff0000"]},"legend":null}}},
{"data":{"name":"t"},"transform":[{"filter":"datum.p=='p'"}],"layer":[
{"mark":{"type":"text","align":"left","baseline":"top","lineBreak":"\n","lineHeight":15,"dx":2,"dy":1},"encoding":{"text":{"field":"s"},"x":{"datum":0,"type":"quantitative","axis":null},"y":{"datum":4,"type":"quantitative","axis":null}}},
{"mark":{"type":"text","align":"center","baseline":"middle"},"encoding":{"text":{"field":"r"},"x":{"datum":2.7,"type":"quantitative","axis":null},"y":{"datum":0.56,"type":"quantitative","axis":null}}},
{"mark":{"type":"text","align":"center","baseline":"middle"},"encoding":{"text":{"field":"e"},"x":{"datum":2.3,"type":"quantitative","axis":null},"y":{"datum":0.19,"type":"quantitative","axis":null}}},
{"mark":{"type":"text","align":"right","baseline":"middle","fontSize":19,"fontWeight":"bold","dx":-4},"encoding":{"text":{"field":"l"},"x":{"datum":4,"type":"quantitative","axis":null},"y":{"datum":2.43,"type":"quantitative","axis":null}}}]}]}
],
"config":{
"view":{"stroke":"#808080","strokeWidth":1},
"axis":{"domain":false,"grid":false,"labelFont":"Liberation Sans","labelFontSize":14,"labelColor":"#000000","labelFlush":false,"labelPadding":8,"tickColor":"#808080","tickSize":-4,"titleFont":"Liberation Serif","titleFontSize":21,"titleFontWeight":"bold","titleColor":"#000000","titlePadding":6,"titleLineHeight":22},
"text":{"font":"Liberation Serif","fontSize":17,"color":"#000000"},
"title":{"font":"Liberation Serif","fontSize":21,"fontWeight":"bold","color":"#000000","offset":7}
}
}
